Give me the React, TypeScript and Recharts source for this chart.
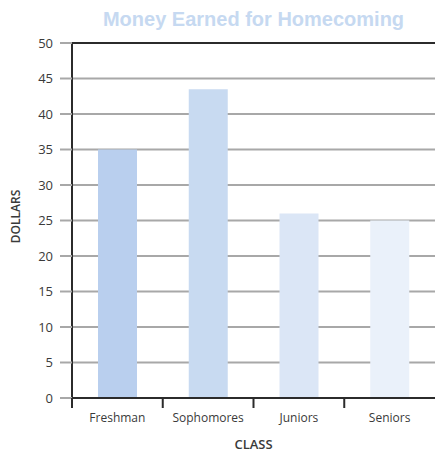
import { BarChart, Bar, XAxis, YAxis, CartesianGrid, ReferenceLine, Cell } from 'recharts';

const classes = ['Freshman', 'Sophomores', 'Juniors', 'Seniors'];
const dollars = [35, 43.5, 26, 25];
const barColors = ['#b9cfee', '#c8daf1', '#dbe6f6', '#eaf1fa'];
const dollarTicks = [0, 5, 10, 15, 20, 25, 30, 35, 40, 45, 50];

const data = classes.map((c, i) => ({ cls: c, amount: dollars[i] }));

const labelFont = '"Open Sans", Arial, sans-serif';
const textColor = '#3a3a3a';

// category label in the middle, small tick mark on the left edge of each band
const ClassTick = (props: any) => {
  const { x, y, payload } = props;
  const half = payload?.offset ?? 45;
  return (
    <g>
      <line x1={x - half} x2={x - half} y1={y} y2={y + 10} stroke="#2b2b2b" strokeWidth={2} />
      <text
        x={x}
        y={y + 21}
        textAnchor="middle"
        dominantBaseline="middle"
        fontSize={12}
        fontWeight={500}
        fontFamily={labelFont}
        fill={textColor}
      >
        {payload.value}
      </text>
    </g>
  );
};

const DollarsLabel = (props: any) => {
  const vb = props.viewBox || {};
  const cx = 17;
  const cy = (vb.y ?? 43) + (vb.height ?? 355) / 2 - 4;
  return (
    <text
      x={cx}
      y={cy}
      transform={`rotate(-90 ${cx} ${cy})`}
      textAnchor="middle"
      dominantBaseline="middle"
      fontSize={12}
      fontWeight={600}
      fontFamily={labelFont}
      fill={textColor}
    >
      DOLLARS
    </text>
  );
};

export default function App() {
  return (
    <div style={{ position: 'absolute', left: 0, top: 0, width: 435, height: 452, background: '#fff' }}>
      <div
        style={{
          position: 'absolute',
          left: 72,
          width: 363,
          top: 8,
          textAlign: 'center',
          fontFamily: 'Arial, "Liberation Sans", sans-serif',
          fontWeight: 'bold',
          fontSize: 20,
          color: '#c6d9f1',
        }}
      >
        Money Earned for Homecoming
      </div>
      <BarChart width={435} height={452} data={data} margin={{ top: 43, right: 0, bottom: 0, left: 0 }}>
        <CartesianGrid vertical={false} stroke="#a8a8a8" strokeWidth={2} />
        <XAxis
          dataKey="cls"
          height={54}
          axisLine={{ stroke: '#2b2b2b', strokeWidth: 2 }}
          tickLine={false}
          tickSize={0}
          tickMargin={0}
          interval={0}
          tick={<ClassTick />}
          label={{
            value: 'CLASS',
            position: 'insideBottom',
            offset: 3,
            fontSize: 13,
            fontWeight: 600,
            fontFamily: labelFont,
            fill: textColor,
          }}
        />
        <YAxis
          width={72}
          domain={[0, 50]}
          ticks={dollarTicks}
          interval={0}
          axisLine={{ stroke: '#2b2b2b', strokeWidth: 2 }}
          tickLine={{ stroke: '#a8a8a8', strokeWidth: 2 }}
          tickSize={12}
          tickMargin={7}
          tick={{ fontSize: 13, fontWeight: 500, fontFamily: labelFont, fill: textColor }}
          label={<DollarsLabel />}
        />
        <ReferenceLine y={50} stroke="#2b2b2b" strokeWidth={2} />
        <Bar dataKey="amount" barSize={39} isAnimationActive={false}>
          {data.map((d, i) => (
            <Cell key={d.cls} fill={barColors[i]} />
          ))}
        </Bar>
      </BarChart>
    </div>
  );
}
